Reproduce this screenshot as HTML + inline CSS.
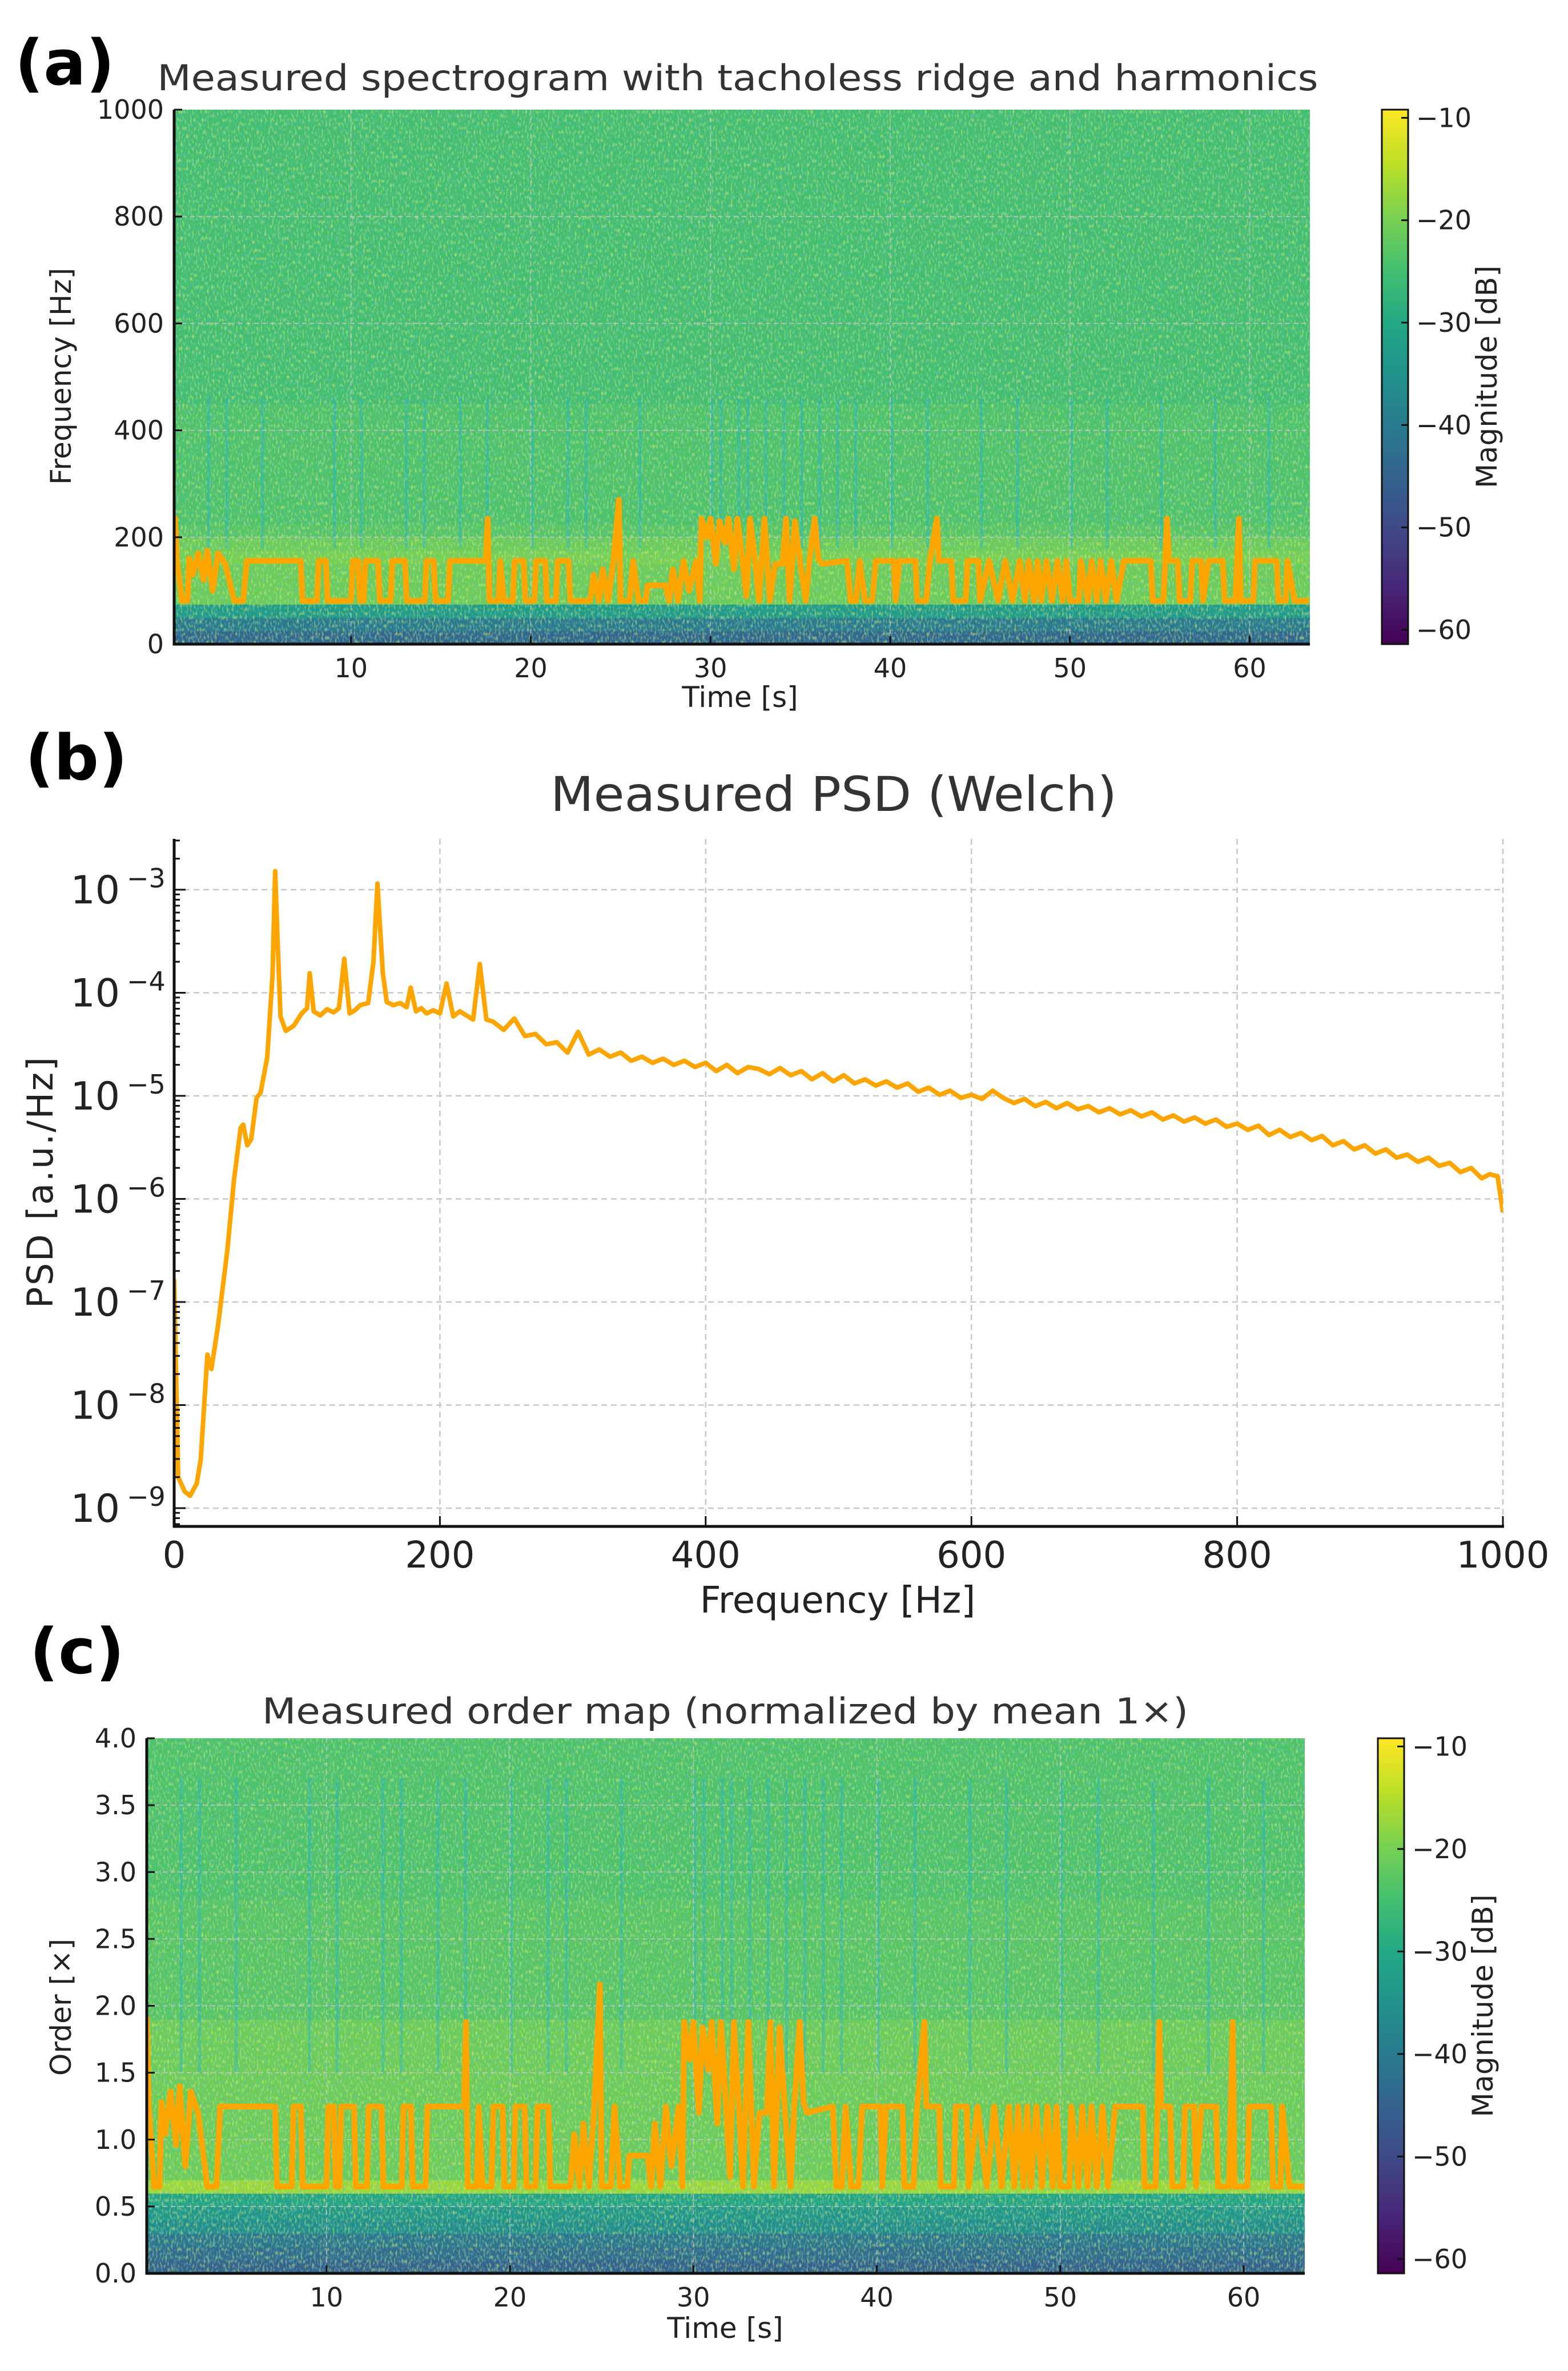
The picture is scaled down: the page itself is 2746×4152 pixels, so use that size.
<!DOCTYPE html>
<html><head><meta charset="utf-8"><style>
html,body{margin:0;padding:0;background:#fff;}
svg{display:block;font-family:"DejaVu Sans","Liberation Sans",sans-serif;}
</style></head><body>
<svg id="fig" width="2746" height="4152" viewBox="0 0 2746 4152" xmlns="http://www.w3.org/2000/svg">
<defs>
<filter id="spkY" x="0" y="0" width="100%" height="100%"><feTurbulence type="fractalNoise" baseFrequency="0.3 0.14" numOctaves="1" seed="3"/><feColorMatrix type="matrix" values="0 0 0 0 0.72  0 0 0 0 0.86  0 0 0 0 0.18  3.4 0 0 0 -1.7"/></filter>
<filter id="spkB" x="0" y="0" width="100%" height="100%"><feTurbulence type="fractalNoise" baseFrequency="0.28 0.16" numOctaves="1" seed="9"/><feColorMatrix type="matrix" values="0 0 0 0 0.13  0 0 0 0 0.52  0 0 0 0 0.55  0 3.4 0 0 -1.75"/></filter>
<clipPath id="clipA"><rect x="305" y="192" width="1989" height="936"/></clipPath>
<clipPath id="clipC"><rect x="257" y="3044" width="2028" height="937"/></clipPath>
<clipPath id="clipB"><rect x="305" y="1469" width="2327" height="1204"/></clipPath>
<linearGradient id="viridisGrad" x1="0" y1="1" x2="0" y2="0">
<stop offset="0" stop-color="#440154"/><stop offset="0.1" stop-color="#482475"/><stop offset="0.2" stop-color="#414487"/><stop offset="0.3" stop-color="#355f8d"/><stop offset="0.4" stop-color="#2a788e"/><stop offset="0.5" stop-color="#21918c"/><stop offset="0.6" stop-color="#22a884"/><stop offset="0.7" stop-color="#44bf70"/><stop offset="0.8" stop-color="#7ad151"/><stop offset="0.9" stop-color="#bddf26"/><stop offset="1" stop-color="#fde725"/>
</linearGradient>
</defs>
<g id="gA"></g>
<g id="gB"></g>
<g id="gC"></g>
</svg>
<script>
// ---------- DATA ----------
const specFreqBins = [0,25,50,75,100,125,150,175,200,225,250,275,300,325,350,375,400,425,450,475,500,525,550,575,600,625,650,675,700,725,750,775,800,825,850,875,900,925,950,975];
const specProfileDb = [-44,-40,-33,-21,-21,-21,-20,-21,-23,-24,-24,-24,-24,-24,-24,-24,-24,-24,-25,-25,-25,-25,-25,-25,-25,-25,-25,-25,-25,-25,-25,-25,-25,-25,-25,-25,-25,-25,-25,-25];
const orderBins = [0,0.1,0.2,0.3,0.4,0.5,0.6,0.7,0.8,0.9,1.0,1.1,1.2,1.3,1.4,1.5,1.6,1.7,1.8,1.9,2.0,2.1,2.2,2.3,2.4,2.5,2.6,2.7,2.8,2.9,3.0,3.1,3.2,3.3,3.4,3.5,3.6,3.7,3.8,3.9];
const orderProfileDb = [-45,-43,-41,-36,-34,-31,-17,-21,-21,-21,-21,-21,-21,-21,-21,-21,-21,-21,-21,-23,-23,-23,-23,-23,-23,-23,-23,-23,-24,-24,-24,-24,-24,-24,-24,-24,-24,-24,-24,-24];
const streakTimes = [2,3,5,9,10.5,13,14,16,17.5,20,22,23,26,30,30.5,31.5,32,33,34,35,36,37,38,40,42,45,47,50,52,55,58,61];
const ridgeT = [0.2,0.3,0.6,0.9,1.0,1.2,1.5,1.8,2.0,2.3,2.6,3.0,3.5,4.0,4.2,7.2,7.3,8.1,8.2,8.6,8.7,10.0,10.1,10.4,10.5,10.7,10.8,11.5,11.6,12.2,12.3,13.0,13.1,14.1,14.2,14.6,14.7,15.4,15.5,17.5,17.6,17.7,18.2,18.3,18.5,19.0,19.1,19.6,19.7,20.2,20.3,20.8,20.9,21.4,21.5,22.1,22.2,23.3,23.5,23.8,24.0,24.3,24.6,24.9,25.0,25.5,25.7,26.0,26.4,26.5,27.5,27.7,27.9,28.2,28.5,28.8,29.2,29.4,29.5,29.8,30.0,30.3,30.5,30.8,31.0,31.3,31.5,31.7,32.0,32.2,32.5,32.7,33.0,33.3,33.6,34.0,34.2,34.4,34.7,35.0,35.3,35.5,35.8,36.0,36.2,37.6,37.8,38.1,38.3,38.6,39.0,39.2,40.2,40.3,40.5,41.4,41.5,42.0,42.2,42.6,42.7,43.4,43.5,44.2,44.3,44.9,45.0,45.5,46.0,46.4,46.8,47.2,47.5,47.7,48.0,48.2,48.4,48.7,49.0,49.3,49.6,49.8,50.0,50.5,50.6,51.0,51.2,51.5,51.7,52.0,52.3,52.6,53.0,54.5,54.6,55.2,55.3,55.4,55.5,56.0,56.1,56.7,56.8,57.3,57.4,57.7,58.5,58.6,59.2,59.3,59.4,59.5,60.2,60.3,61.5,61.6,62.0,62.1,62.5,63.3];
const ridgeF = [240,160,81,81,160,130,170,120,175,100,170,150,81,81,156,156,81,81,156,156,81,81,156,156,81,81,156,156,81,81,156,156,81,81,156,156,81,81,156,156,235,81,81,156,81,81,156,156,81,81,156,156,81,81,156,156,81,81,130,81,140,81,156,270,81,81,156,81,81,110,110,81,140,81,156,100,156,81,235,200,235,150,230,190,235,140,235,180,90,235,150,81,235,81,150,150,235,81,230,150,81,156,235,160,150,156,81,81,156,81,81,156,156,81,156,156,81,81,156,235,156,156,81,81,156,156,81,156,81,156,81,156,81,156,81,156,81,156,81,156,81,156,81,81,156,81,156,81,156,81,156,81,156,156,81,81,156,235,156,156,81,81,156,156,81,156,156,81,81,156,235,81,81,156,156,81,81,156,81,81];
const meanRidgeHz = 125;
const psdFreq = [0,3,8,12,17,20,25,28,33,40,45,50,52,55,58,62,65,70,74,76,78,80,84,90,96,100,102,105,110,115,120,124,128,132,136,140,146,150,153,157,160,165,170,175,178,182,186,190,195,200,205,210,215,220,225,230,235,240,248,256,264,272,280,288,296,304,312,320,328,336,344,352,360,368,376,384,392,400,408,416,424,432,440,448,456,464,472,480,488,496,504,512,520,528,536,544,552,560,568,576,584,592,600,608,616,624,632,640,648,656,664,672,680,688,696,704,712,720,728,736,744,752,760,768,776,784,792,800,808,816,824,832,840,848,856,864,872,880,888,896,904,912,920,928,936,944,952,960,968,976,984,990,996,1000];
const psdLog = [-6.78,-8.70,-8.84,-8.88,-8.76,-8.53,-7.51,-7.65,-7.23,-6.50,-5.82,-5.31,-5.28,-5.48,-5.42,-5.02,-4.97,-4.63,-3.84,-2.82,-3.55,-4.23,-4.37,-4.32,-4.20,-4.15,-3.81,-4.18,-4.22,-4.16,-4.19,-4.15,-3.67,-4.20,-4.17,-4.12,-4.10,-3.70,-2.94,-3.80,-4.09,-4.12,-4.10,-4.14,-3.95,-4.18,-4.15,-4.20,-4.17,-4.20,-3.91,-4.23,-4.18,-4.22,-4.26,-3.72,-4.26,-4.28,-4.36,-4.25,-4.42,-4.40,-4.50,-4.48,-4.58,-4.38,-4.60,-4.55,-4.62,-4.58,-4.66,-4.62,-4.68,-4.64,-4.70,-4.66,-4.72,-4.68,-4.76,-4.70,-4.78,-4.72,-4.74,-4.79,-4.73,-4.80,-4.76,-4.84,-4.78,-4.86,-4.80,-4.88,-4.84,-4.90,-4.86,-4.92,-4.88,-4.96,-4.92,-4.99,-4.95,-5.02,-4.99,-5.03,-4.95,-5.02,-5.07,-5.03,-5.10,-5.06,-5.12,-5.07,-5.13,-5.10,-5.16,-5.12,-5.18,-5.14,-5.20,-5.16,-5.23,-5.19,-5.25,-5.21,-5.27,-5.23,-5.30,-5.27,-5.33,-5.29,-5.38,-5.33,-5.40,-5.36,-5.43,-5.39,-5.48,-5.44,-5.52,-5.48,-5.56,-5.52,-5.60,-5.57,-5.64,-5.60,-5.68,-5.65,-5.74,-5.70,-5.80,-5.76,-5.78,-6.13];
const specYTicks = [0,200,400,600,800,1000];
const timeTicks = [10,20,30,40,50,60];
const cbarTicks = [-10,-20,-30,-40,-50,-60];
const psdXTicks = [0,200,400,600,800,1000];
const psdYTicks = [-3,-4,-5,-6,-7,-8,-9];
const orderYTicks = [0,0.5,1.0,1.5,2.0,2.5,3.0,3.5,4.0];

// ---------- HELPERS ----------
const NS='http://www.w3.org/2000/svg';
function mk(tag,attrs,parent){const e=document.createElementNS(NS,tag);for(const k in attrs)e.setAttribute(k,attrs[k]);parent.appendChild(e);return e;}
const vstops=['#440154','#482475','#414487','#355f8d','#2a788e','#21918c','#22a884','#44bf70','#7ad151','#bddf26','#fde725'];
function hex(h){return [1,3,5].map(i=>parseInt(h.substr(i,2),16));}
function viridis(t){t=Math.max(0,Math.min(1,t));const p=t*10,i=Math.min(9,Math.floor(p)),f=p-i;const a=hex(vstops[i]),b=hex(vstops[i+1]);return 'rgb('+a.map((v,k)=>Math.round(v+(b[k]-v)*f)).join(',')+')';}
const dbMin=-61.4, dbMax=-9.2;
function dbColor(d){return viridis((d-dbMin)/(dbMax-dbMin));}
function txt(parent,x,y,s,size,anchor,name,extra){const t=mk('text',Object.assign({x:x,y:y,'font-size':size,'text-anchor':anchor||'middle',fill:'#222'},extra||{}),parent);t.textContent=s;return t;}

function heatPanel(g,opt){
  const {L,R,T,B,x0,x1,y0,y1,bins,binW,prof,streakLo,streakHi,ridgeY,clip,name}=opt;
  const xs=t=>L+(t-x0)/(x1-x0)*(R-L), ys=v=>B-(v-y0)/(y1-y0)*(B-T);
  const hm=mk('g',{'clip-path':'url(#'+clip+')'},g);
  
  
  bins.forEach((b,i)=>{const r=mk('rect',{x:L,y:ys(b+binW),width:R-L,height:ys(b)-ys(b+binW)+1,fill:dbColor(prof[i])},hm);
    
    });
  mk('rect',{x:L,y:T,width:R-L,height:B-T,filter:'url(#spkY)',opacity:0.6},hm);
  mk('rect',{x:L,y:T,width:R-L,height:B-T,filter:'url(#spkB)',opacity:0.6},hm);
  streakTimes.forEach(t=>{const r=mk('rect',{x:xs(t),y:ys(streakHi),width:5,height:ys(streakLo)-ys(streakHi),fill:'rgb(30,175,220)',opacity:0.35},hm);
    
    });
  opt.yTicks.forEach(v=>{if(v>y0&&v<y1){const l=mk('line',{x1:L,x2:R,y1:ys(v),y2:ys(v),stroke:'#c8c8c8','stroke-width':2,'stroke-dasharray':'8,6',opacity:0.8},g);}});
  timeTicks.forEach(v=>{const l=mk('line',{x1:xs(v),x2:xs(v),y1:T,y2:B,stroke:'#c8c8c8','stroke-width':2,'stroke-dasharray':'8,6',opacity:0.7},g);});
  const pts=ridgeT.map((t,i)=>xs(t).toFixed(1)+','+ys(ridgeY[i]).toFixed(1)).join(' ');
  const pl=mk('polyline',{points:pts,fill:'none',stroke:'#ffa500','stroke-width':10,'stroke-linejoin':'round','clip-path':'url(#'+clip+')'},g);
  
  
  mk('line',{x1:L,x2:L,y1:T,y2:B+2,stroke:'#111','stroke-width':5},g);
  mk('line',{x1:L-2,x2:R,y1:B,y2:B,stroke:'#111','stroke-width':5},g);
  opt.yTicks.forEach(v=>{mk('line',{x1:L,x2:L+14,y1:ys(v),y2:ys(v),stroke:'#111','stroke-width':3},g);
    txt(g,L-18,ys(v)+16,opt.yFmt(v),46,'end','y-tick-label');});
  timeTicks.forEach(v=>{mk('line',{x1:xs(v),x2:xs(v),y1:B,y2:B-14,stroke:'#111','stroke-width':3},g);
    txt(g,xs(v),B+58,String(v),46,'middle','x-tick-label');});
  const cb=mk('g',{},g);
  
  
  const cL=opt.cbL,cW=46;
  mk('rect',{x:cL,y:T,width:cW,height:B-T,fill:'url(#viridisGrad)',stroke:'#111','stroke-width':3},cb);
  const cy=d=>B-(d-dbMin)/(dbMax-dbMin)*(B-T);
  cbarTicks.forEach(d=>{mk('line',{x1:cL+cW-12,x2:cL+cW,y1:cy(d),y2:cy(d),stroke:'#111','stroke-width':3},cb);
    txt(cb,cL+cW+14,cy(d)+16,'\u2212'+Math.abs(d),46,'start','colorbar-tick-label');});
  txt(cb,0,0,'Magnitude [dB]',50,'middle','colorbar-label',{transform:'translate('+(cL+cW+155)+','+((T+B)/2)+') rotate(-90)',textLength:390,lengthAdjust:'spacing'});
}

// ---------- PANEL A ----------
const gA=document.getElementById('gA');
txt(gA,26,148,'(a)',110,'start','panel-label-a',{'font-weight':'bold',fill:'#000'});
txt(gA,1292,158,'Measured spectrogram with tacholess ridge and harmonics',62,'middle','title-a',{textLength:2033,lengthAdjust:'spacingAndGlyphs',fill:'#333'});
heatPanel(gA,{L:305,R:2294,T:192,B:1128,x0:0.16,x1:63.35,y0:0,y1:1000,bins:specFreqBins,binW:25,prof:specProfileDb,streakLo:180,streakHi:460,ridgeY:ridgeF,clip:'clipA',name:'spectrogram',yTicks:specYTicks,yFmt:v=>String(v),cbL:2420});
txt(gA,1296,1238,'Time [s]',50,'middle','x-axis-title-a');
txt(gA,0,0,'Frequency [Hz]',50,'middle','y-axis-title-a',{transform:'translate(124,659) rotate(-90)',textLength:380,lengthAdjust:'spacing'});

// ---------- PANEL C ----------
const gC=document.getElementById('gC');
txt(gC,52,2930,'(c)',110,'start','panel-label-c',{'font-weight':'bold',fill:'#000'});
txt(gC,1270,3018,'Measured order map (normalized by mean 1\u00d7)',62,'middle','title-c',{textLength:1622,lengthAdjust:'spacingAndGlyphs',fill:'#333'});
const ridgeOrder = ridgeF.map(f=>f/meanRidgeHz);
heatPanel(gC,{L:257,R:2285,T:3044,B:3981,x0:0.2,x1:63.33,y0:0,y1:4,bins:orderBins,binW:0.1,prof:orderProfileDb,streakLo:1.5,streakHi:3.7,ridgeY:ridgeOrder,clip:'clipC',name:'order-map',yTicks:orderYTicks,yFmt:v=>v.toFixed(1),cbL:2413});
txt(gC,1270,4094,'Time [s]',50,'middle','x-axis-title-c');
txt(gC,0,0,'Order [\u00d7]',50,'middle','y-axis-title-c',{transform:'translate(124,3515) rotate(-90)',textLength:240,lengthAdjust:'spacing'});

// ---------- PANEL B ----------
const gB=document.getElementById('gB');
txt(gB,44,1365,'(b)',110,'start','panel-label-b',{'font-weight':'bold',fill:'#000'});
txt(gB,1460,1420,'Measured PSD (Welch)',84,'middle','title-b',{textLength:992,lengthAdjust:'spacingAndGlyphs',fill:'#333'});
const bL=305,bR=2632,bT=1469,bB=2673;
const bx=f=>bL+f/1000*(bR-bL);
const by=lg=>1558+(-3-lg)*180.5;
psdXTicks.forEach(v=>{if(v>0){const l=mk('line',{x1:bx(v),x2:bx(v),y1:bT,y2:bB,stroke:'#c8c8c8','stroke-width':2.5,'stroke-dasharray':'10,7'},gB);}});
psdYTicks.forEach(v=>{const l=mk('line',{x1:bL,x2:bR,y1:by(v),y2:by(v),stroke:'#c8c8c8','stroke-width':2.5,'stroke-dasharray':'10,7'},gB);});
const psdPts=psdFreq.map((f,i)=>bx(f).toFixed(1)+','+by(psdLog[i]).toFixed(1)).join(' ');
const psdLine=mk('polyline',{points:psdPts,fill:'none',stroke:'#ffa500','stroke-width':8,'stroke-linejoin':'round','clip-path':'url(#clipB)'},gB);


mk('line',{x1:bL,x2:bL,y1:bT,y2:bB+2,stroke:'#111','stroke-width':5},gB);
mk('line',{x1:bL-2,x2:bR+2,y1:bB,y2:bB,stroke:'#111','stroke-width':5},gB);
psdXTicks.forEach(v=>{mk('line',{x1:bx(v),x2:bx(v),y1:bB,y2:bB-18,stroke:'#111','stroke-width':3},gB);
  txt(gB,bx(v),bB+72,String(v),64,'middle','x-tick-label');});
for(let d=-10;d<=-2;d++){for(let m=1;m<10;m++){const lg=d+Math.log10(m);const y=by(lg);if(y<bT||y>bB)continue;
  mk('line',{x1:bL,x2:bL+(m===1?20:10),y1:y,y2:y,stroke:'#111','stroke-width':3},gB);}}
psdYTicks.forEach(v=>{const y=by(v);
  txt(gB,210,y+24,'10',68,'end','y-tick-label');
  txt(gB,222,y-4,'\u2212'+Math.abs(v),46,'start','y-tick-exponent');});
txt(gB,1467,2824,'Frequency [Hz]',64,'middle','x-axis-title-b');
txt(gB,0,0,'PSD [a.u./Hz]',62,'middle','y-axis-title-b',{transform:'translate(92,2071) rotate(-90)',textLength:440,lengthAdjust:'spacing'});
</script>
</body></html>
